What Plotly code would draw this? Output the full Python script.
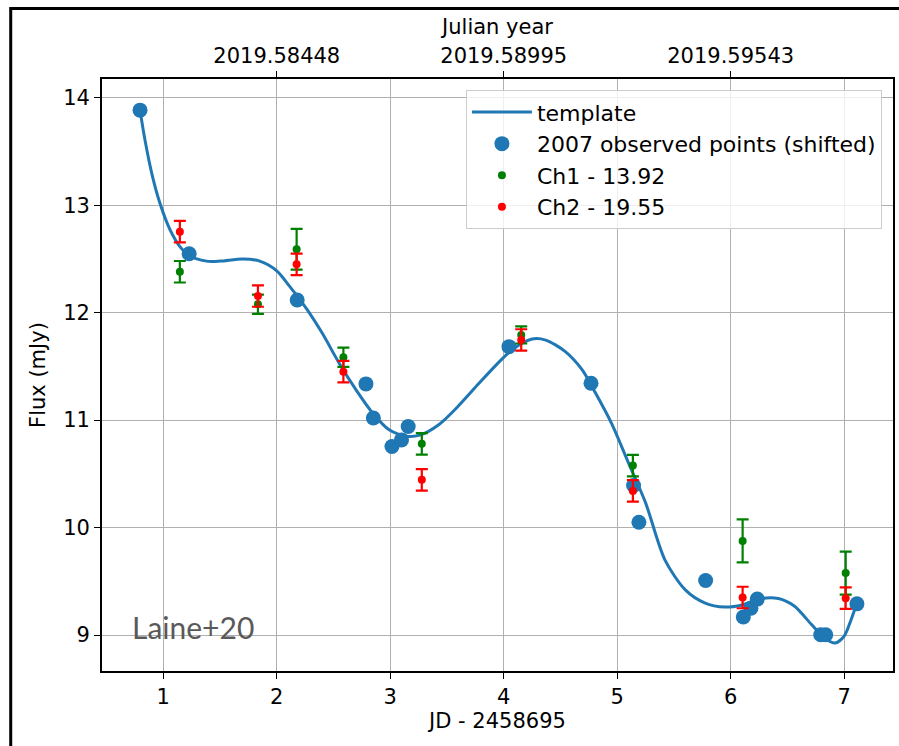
import plotly.graph_objects as go

# ---- data ----
template_x = [0.795, 0.84, 0.90, 0.97, 1.06, 1.15, 1.23, 1.38, 1.50, 1.70, 1.85, 2.00, 2.11, 2.26,
              2.40, 2.55, 2.70, 2.85, 2.99, 3.14, 3.26, 3.43, 3.59, 3.78, 3.93, 4.08, 4.25, 4.37,
              4.54, 4.69, 4.81, 4.95, 5.10, 5.25, 5.42, 5.60, 5.77, 5.95, 6.10, 6.27, 6.42, 6.56,
              6.71, 6.83, 6.92, 7.00, 7.06, 7.11]
template_y = [13.885, 13.60, 13.29, 13.02, 12.77, 12.61, 12.53, 12.48, 12.48, 12.50, 12.48, 12.39,
              12.25, 12.04, 11.81, 11.53, 11.28, 11.06, 10.91, 10.85, 10.86, 10.96, 11.12, 11.34,
              11.51, 11.66, 11.755, 11.745, 11.64, 11.47, 11.25, 10.97, 10.60, 10.23, 9.70, 9.42,
              9.30, 9.26, 9.28, 9.34, 9.34, 9.27, 9.10, 8.97, 8.925, 8.99, 9.14, 9.29]

obs_x = [0.795, 1.228, 2.18, 2.786, 2.851, 3.015, 3.099, 3.158, 4.046, 4.769, 5.144, 5.191,
         5.779, 6.111, 6.178, 6.234, 6.793, 6.837, 7.112]
obs_y = [13.885, 12.549, 12.118, 11.337, 11.020, 10.754, 10.816, 10.94, 11.684, 11.343, 10.391,
         10.05, 9.507, 9.167, 9.25, 9.334, 9.002, 9.002, 9.29]

ch_x = [1.146, 1.834, 2.175, 2.587, 3.278, 4.154, 5.138, 6.105, 7.013]
ch1_y = [12.381, 12.078, 12.59, 11.585, 10.779, 11.793, 10.577, 9.876, 9.576]
ch1_err = [0.10, 0.09, 0.19, 0.09, 0.10, 0.08, 0.10, 0.20, 0.20]
ch2_y = [12.754, 12.155, 12.45, 11.451, 10.444, 11.746, 10.341, 9.349, 9.343]
ch2_err = [0.10, 0.10, 0.10, 0.10, 0.10, 0.10, 0.10, 0.10, 0.10]

x_ticks = [1, 2, 3, 4, 5, 6, 7]
y_ticks = [9, 10, 11, 12, 13, 14]
top_tick_jd = [2, 4, 6]
top_tick_labels = ["2019.58448", "2019.58995", "2019.59543"]

FONT = "DejaVu Sans"
FS = 21
BLUE = "#1f77b4"
GREEN = "#008000"
RED = "#ff0000"

fig = go.Figure()
fig.add_trace(go.Scatter(x=template_x, y=template_y, mode="lines", name="template",
                         line=dict(color=BLUE, width=3, shape="spline", smoothing=0.8)))
fig.add_trace(go.Scatter(x=obs_x, y=obs_y, mode="markers", name="2007 observed points (shifted)",
                         marker=dict(color=BLUE, size=15)))
fig.add_trace(go.Scatter(x=ch_x, y=ch1_y, mode="markers", name="Ch1 - 13.92",
                         marker=dict(color=GREEN, size=8),
                         error_y=dict(type="data", array=ch1_err, color=GREEN, thickness=2.2, width=6)))
fig.add_trace(go.Scatter(x=ch_x, y=ch2_y, mode="markers", name="Ch2 - 19.55",
                         marker=dict(color=RED, size=8),
                         error_y=dict(type="data", array=ch2_err, color=RED, thickness=2.2, width=6)))
# invisible trace to carry the top axis
fig.add_trace(go.Scatter(x=top_tick_jd, y=[None] * len(top_tick_jd), xaxis="x2",
                         showlegend=False, hoverinfo="skip"))

axis_common = dict(showline=True, linecolor="black", linewidth=1.8, ticks="outside",
                   ticklen=6, tickwidth=1.4, tickcolor="black",
                   tickfont=dict(family=FONT, size=FS, color="black"), zeroline=False)

fig.update_layout(
    width=899, height=746,
    margin=dict(l=102, r=4, t=79, b=75),
    paper_bgcolor="white", plot_bgcolor="white",
    font=dict(family=FONT, size=FS, color="black"),
    xaxis=dict(range=[0.46, 7.43], tickvals=x_ticks, showgrid=True, gridcolor="#b0b0b0",
               gridwidth=1.4, mirror=True,
               title=dict(text="JD - 2458695", font=dict(family=FONT, size=FS), standoff=5),
               **axis_common),
    xaxis2=dict(range=[0.46, 7.43], overlaying="x", side="top", anchor="y",
                tickvals=top_tick_jd, ticktext=top_tick_labels, showgrid=False,
                title=dict(text="Julian year", font=dict(family=FONT, size=FS), standoff=3),
                **axis_common),
    yaxis=dict(range=[8.665, 14.175], tickvals=y_ticks, showgrid=True, gridcolor="#b0b0b0",
               gridwidth=1.4, mirror=True,
               title=dict(text="Flux (mJy)", font=dict(family=FONT, size=FS), standoff=12),
               **axis_common),
    legend=dict(x=0.986, y=0.981, xanchor="right", yanchor="top",
                bgcolor="rgba(255,255,255,0.8)", bordercolor="#cccccc", borderwidth=1,
                font=dict(family=FONT, size=22), tracegroupgap=0, itemwidth=60),
    showlegend=True,
    annotations=[dict(text="Laine+20", xref="paper", yref="paper", x=0.036, y=0.04,
                      xanchor="left", yanchor="bottom", showarrow=False,
                      font=dict(family="Lato", size=30, color="#595959"))],
    shapes=[dict(type="rect", xref="paper", yref="paper", x0=-0.1154, x1=1.01, y0=-0.2, y1=1.119,
                 line=dict(color="black", width=3), layer="above")],
)

fig.write_html("out.html")
